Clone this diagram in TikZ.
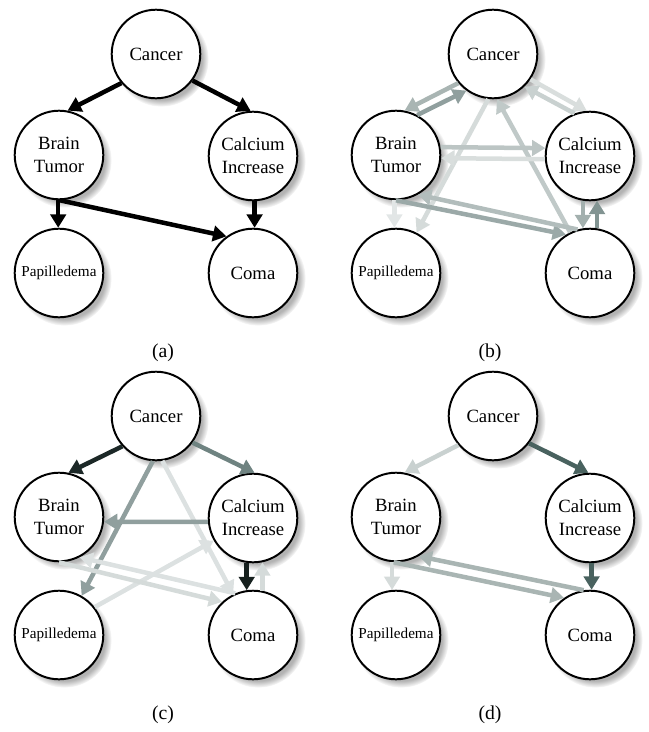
\documentclass[tikz,border=0pt]{standalone}
\usepackage{fontspec}
\setmainfont{Liberation Serif}
\usetikzlibrary{arrows.meta,shadows}

\definecolor{slate}{HTML}{3F5A57}

\tikzset{
  disease/.style={draw, circle, line width=1.4pt, fill=white, minimum size=63pt,
    inner sep=0pt, align=center, font=\fontsize{13.3}{16.4}\selectfont,
    circular drop shadow={shadow xshift=3.5pt, shadow yshift=-3.5pt, shadow scale=1.07, opacity=0.6}},
  small/.style={font=\fontsize{10.8}{13}\selectfont},
  link/.style={draw=#1, line width=3.2pt, -{Triangle[length=9.5pt,width=11pt]}}
}

\begin{document}
\begin{tikzpicture}[x=0.025cm, y=-0.025cm]
\useasboundingbox (0, 0) rectangle (649, 732);

% same five variables in every panel
\foreach \p/\dx/\dy/\l/\cx in {A/0/0/a/163, B/337/0/b/153, C/0/362/c/163, D/337/362/d/153} {
  \begin{scope}[shift={(\dx, \dy)}]
  \draw (156, 54) node[disease] (cancer\p) {Cancer};
  \draw (59, 155) node[disease] (tumor\p) {Brain\\Tumor};
  \draw (253, 156) node[disease] (calcium\p) {Calcium\\Increase};
  \draw (59, 273) node[disease, small] (papil\p) {Papilledema};
  \draw (253, 273) node[disease] (coma\p) {Coma};
  \draw (\cx, 353) node[font=\fontsize{14}{16}\selectfont] (cap\p) {(\l)};
  \end{scope}
}

% (a)
\draw[link=black] (cancerA.220) -- (tumorA.79);
\draw[link=black] (cancerA.-36) -- (calciumA.93);
\draw[link=black] (tumorA.-91) -- (papilA.91);
\draw[link=black] (tumorA.-89) -- (comaA.126);
\draw[link=black] (calciumA.-88) -- (comaA.88);

% (b)
\draw[link=slate!45] (cancerB.220) -- (tumorB.79);
\draw[link=slate!58] (tumorB.62) -- (cancerB.234);
\draw[link=slate!20] (cancerB.-34) -- (calciumB.94);
\draw[link=slate!28] (calciumB.110) -- (cancerB.-46);
\draw[link=slate!22] (cancerB.264) -- (papilB.63);
\draw[link=slate!33] (comaB.116) -- (cancerB.-85);
\draw[link=slate!35] (tumorB.10) -- (calciumB.170);
\draw[link=slate!20] (calciumB.184) -- (tumorB.-4);
\draw[link=slate!15] (tumorB.-92) -- (papilB.92);
\draw[link=slate!52] (tumorB.-90) -- (comaB.122);
\draw[link=slate!40] (comaB.106) -- (tumorB.-61);
\draw[link=slate!48] (calciumB.-99) -- (comaB.99);
\draw[link=slate!65] (comaB.81) -- (calciumB.-81);

% (c)
\draw[link=slate!45!black] (cancerC.222) -- (tumorC.78);
\draw[link=slate!75] (cancerC.-36) -- (calciumC.88);
\draw[link=slate!58] (cancerC.266) -- (papilC.60);
\draw[link=slate!18] (cancerC.278) -- (comaC.116);
\draw[link=slate!58] (calciumC.185) -- (tumorC.-6);
\draw[link=slate!18] (papilC.38) -- (calciumC.210);
\draw[link=slate!22] (tumorC.-90) -- (comaC.133);
\draw[link=slate!18] (comaC.113) -- (tumorC.-63);
\draw[link=slate!35!black] (calciumC.-98) -- (comaC.98);
\draw[link=slate!22] (comaC.78) -- (calciumC.-78);

% (d)
\draw[link=slate!28] (cancerD.220) -- (tumorD.79);
\draw[link=slate!95] (cancerD.-37) -- (calciumD.92);
\draw[link=slate!22] (tumorD.-95) -- (papilD.95);
\draw[link=slate!45] (tumorD.-93) -- (comaD.125);
\draw[link=slate!45] (comaD.98) -- (tumorD.-60);
\draw[link=slate!95] (calciumD.-88) -- (comaD.88);
\end{tikzpicture}
\end{document}
